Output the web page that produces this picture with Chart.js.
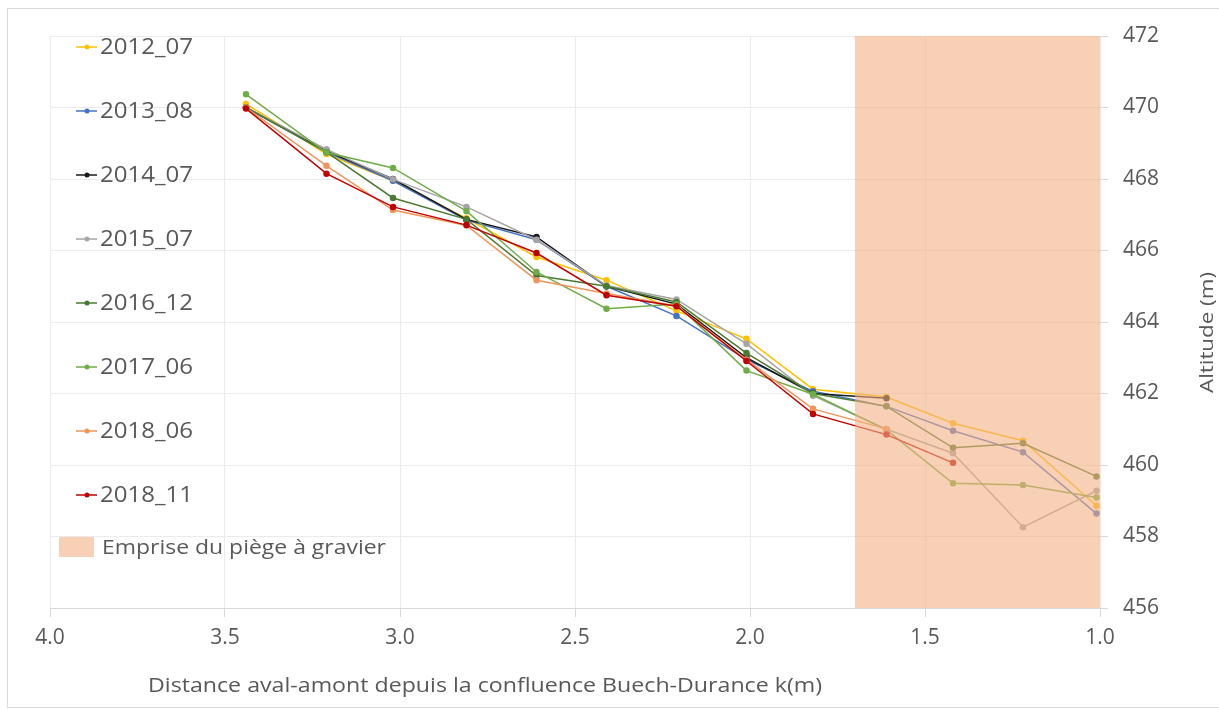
<!DOCTYPE html>
<html>
<head>
<meta charset="utf-8">
<script src="https://cdn.jsdelivr.net/npm/chart.js@4"></script>
<style>
  html, body { margin: 0; padding: 0; background: #fff; }
  #wrap { width: 1219px; height: 709px; }
</style>
</head>
<body>
<div id="wrap"><canvas id="profile"></canvas></div>
<script>
// distances (km) of the cross sections, upstream -> downstream
const distances = [3.44, 3.21, 3.02, 2.81, 2.61, 2.41, 2.21, 2.01, 1.82, 1.61, 1.42, 1.22, 1.01];

const labels = ['2012_07', '2013_08', '2014_07', '2015_07', '2016_12', '2017_06', '2018_06', '2018_11'];
const colors = ['#FFC000', '#4472C4', '#1a1a1a', '#A5A5A5', '#4A7A32', '#70AD47', '#F0955A', '#C00000'];

const alt2012_07 = [470.10, 468.70, 467.95, 466.90, 465.82, 465.17, 464.31, 463.53, 462.12, 461.90, 461.17, 460.68, 458.86];
const alt2013_08 = [470.00, 468.75, 467.95, 466.85, 466.30, 465.00, 464.17, 462.95, 462.06, 461.64, 460.96, 460.36, 458.64];
const alt2014_07 = [470.00, 468.78, 468.00, 466.87, 466.38, 465.00, 464.50, 463.00, 462.00, 461.87];
const alt2015_07 = [470.00, 468.83, 467.99, 467.22, 466.30, 465.02, 464.63, 463.39, 461.94, 461.00, 460.33, 458.26, 459.28];
const alt2016_12 = [470.00, 468.75, 467.47, 466.87, 465.30, 465.00, 464.56, 463.13, 462.00, 461.64, 460.48, 460.61, 459.68];
const alt2017_06 = [470.37, 468.74, 468.31, 467.10, 465.40, 464.37, 464.50, 462.64, 461.98, 460.98, 459.49, 459.44, 459.09];
const alt2018_06 = [470.00, 468.37, 467.13, 466.70, 465.17, 464.80, 464.45, 462.95, 461.57, 461.01];
const alt2018_11 = [469.97, 468.15, 467.22, 466.71, 465.93, 464.75, 464.44, 462.91, 461.43, 460.85, 460.06];

const series = [alt2012_07, alt2013_08, alt2014_07, alt2015_07, alt2016_12, alt2017_06, alt2018_06, alt2018_11];

// gravel trap extent (km)
const trapStart = 1.7;
const trapEnd = 1.0;
const trapLabel = 'Emprise du piège à gravier';

const xTitle = 'Distance aval-amont depuis la confluence Buech-Durance k(m)';
const yTitle = 'Altitude (m)';

const textColor = '#595959';
const trapColor = 'rgba(244, 176, 132, 0.6)';
const trapSolid = '#F8D0B5';

const datasets = series.map((vals, i) => ({
    label: labels[i],
    data: vals.map((v, j) => ({ x: distances[j], y: v })),
    borderColor: colors[i],
    backgroundColor: colors[i],
    borderWidth: 1.5,
    pointRadius: 2.5,
    pointHoverRadius: 3,
    fill: false,
    tension: 0,
    order: 10 - i
}));

datasets.push({
    label: trapLabel,
    data: [{ x: trapStart, y: 472 }, { x: trapEnd, y: 472 }],
    borderWidth: 0,
    pointRadius: 0,
    backgroundColor: trapColor,
    fill: 'start',
    order: -1
});

// text stretched horizontally to a given width (the source picture is a bit wide)
function fitText(ctx, text, x, y, size, width) {
    ctx.font = size + 'px "Open Sans"';
    const w = ctx.measureText(text).width;
    ctx.save();
    ctx.translate(x, y);
    ctx.scale(width / w, 1);
    ctx.fillText(text, 0, 0);
    ctx.restore();
}

const decorPlugin = {
    id: 'decor',
    beforeDraw(chart) {
        const ctx = chart.ctx;
        ctx.save();
        ctx.strokeStyle = '#d9d9d9';
        ctx.lineWidth = 1;
        ctx.strokeRect(7.5, 8.5, 1230, 699);
        ctx.restore();
    },
    afterDraw(chart) {
        const ctx = chart.ctx;
        ctx.save();
        // legend
        ctx.textBaseline = 'middle';
        ctx.textAlign = 'left';
        labels.forEach((lab, i) => {
            const y = 47 + i * 64;
            ctx.strokeStyle = colors[i];
            ctx.lineWidth = 1.5;
            ctx.beginPath();
            ctx.moveTo(76, y);
            ctx.lineTo(97, y);
            ctx.stroke();
            ctx.fillStyle = colors[i];
            ctx.beginPath();
            ctx.arc(87, y, 2.5, 0, Math.PI * 2);
            ctx.fill();
            ctx.fillStyle = textColor;
            fitText(ctx, lab, 100, y + 1, 22, 93);
        });
        ctx.fillStyle = trapSolid;
        ctx.fillRect(59, 537, 35, 20);
        ctx.fillStyle = textColor;
        fitText(ctx, trapLabel, 102, 548, 19.5, 284);

        // x axis title
        fitText(ctx, xTitle, 148, 686, 20.5, 674);

        // y axis title
        ctx.translate(1208, 393);
        ctx.rotate(-Math.PI / 2);
        fitText(ctx, yTitle, 0, 0, 18, 121);
        ctx.restore();
    }
};

new Chart(document.getElementById('profile'), {
    type: 'line',
    data: { datasets: datasets },
    plugins: [decorPlugin],
    options: {
        responsive: true,
        maintainAspectRatio: false,
        animation: false,
        layout: { padding: { left: 50, top: 36, right: 0, bottom: 0 } },
        plugins: {
            legend: { display: false },
            tooltip: { enabled: false }
        },
        scales: {
            x: {
                type: 'linear',
                reverse: true,
                min: 1,
                max: 4,
                afterFit: (scale) => { scale.height = 101; },
                ticks: {
                    stepSize: 0.5,
                    padding: 8,
                    color: textColor,
                    font: { family: 'Open Sans', size: 21 },
                    callback: (v) => v.toFixed(1)
                },
                grid: { color: '#ebebeb', tickColor: '#d9d9d9', tickLength: 9 },
                border: { color: '#d9d9d9' }
            },
            y: {
                position: 'right',
                min: 456,
                max: 472,
                afterFit: (scale) => { scale.width = 119; },
                ticks: {
                    stepSize: 2,
                    padding: 15,
                    color: textColor,
                    font: { family: 'Open Sans', size: 21 }
                },
                grid: { color: '#ebebeb', tickColor: '#d9d9d9', tickLength: 8 },
                border: { display: false }
            }
        }
    }
});
</script>
</body>
</html>
